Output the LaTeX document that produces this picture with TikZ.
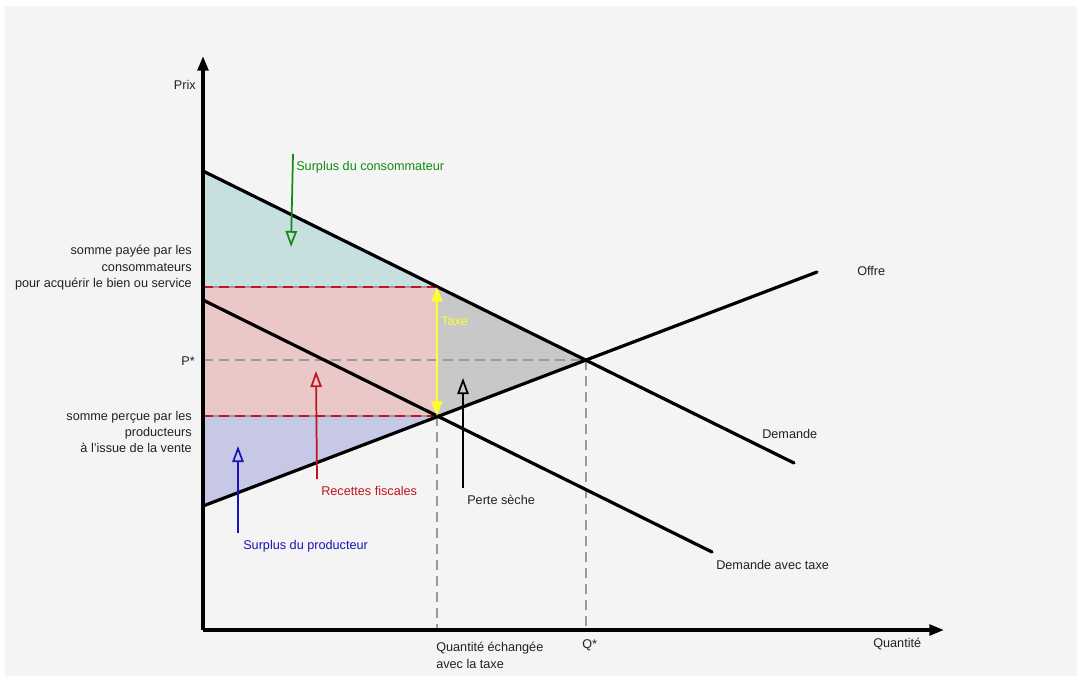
\documentclass[tikz,border=0pt]{standalone}
\usepackage{fontspec}
\setmainfont{Liberation Sans}
\usetikzlibrary{arrows.meta}
\definecolor{bg}{HTML}{F4F4F4}
\definecolor{tealfill}{HTML}{C7DFDF}
\definecolor{pinkfill}{HTML}{EBC8C8}
\definecolor{bluefill}{HTML}{C6C8E6}
\definecolor{grayfill}{HTML}{C8C8C8}
\definecolor{dgreen}{HTML}{138A13}
\definecolor{dred}{HTML}{C0141E}
\definecolor{dblue}{HTML}{1A14B4}
\definecolor{yel}{HTML}{FFFF30}
\definecolor{dashgray}{HTML}{9A9A9A}
\definecolor{txt}{HTML}{222222}
\tikzset{
  curve/.style={line width=2.4pt, line cap=round},
  axis/.style={line width=2.6pt, -{Triangle[length=11pt,width=8pt]}},
  guide/.style={dashgray, line width=1.1pt, dash pattern=on 7.5pt off 4.5pt},
  redguide/.style={dred, line width=1.1pt, dash pattern=on 7.5pt off 4.5pt},
  note/.style={line width=1.3pt, -{Triangle[open,length=12pt,width=8.5pt,line width=1.3pt]}},
  lbl/.style={font=\fontsize{9.5}{12.3}\selectfont, text=txt, inner sep=0pt},
}
\begin{document}
\begin{tikzpicture}[x=0.75pt,y=-0.75pt]
\useasboundingbox (0,0) rectangle (1077,676);
\fill[white] (0,0) rectangle (1077,676);
\fill[bg] (5,6) rectangle (1077,676);
% coordinates
\coordinate (O) at (203,630);
\coordinate (D0) at (203,171);
\coordinate (D1) at (794,463);
\coordinate (S0) at (203,506);
\coordinate (S1) at (817,272);
\coordinate (T0) at (203,300);
\coordinate (T1) at (712,552);
\coordinate (E) at (586,360);
\coordinate (Et) at (437,416);
\coordinate (Pc) at (437,287);
\coordinate (Pcy) at (203,287);
\coordinate (Ppy) at (203,416);
\coordinate (Psy) at (203,360);
\coordinate (Qt) at (437,630);
\coordinate (Qs) at (586,630);
% fills
\fill[tealfill] (D0) -- (Pc) -- (Pcy) -- cycle;
\fill[pinkfill] (Pcy) rectangle (Et);
\fill[bluefill] (Ppy) -- (Et) -- (S0) -- cycle;
\fill[grayfill] (Pc) -- (E) -- (Et) -- cycle;
% guides
\draw[guide] (Psy) -- (E);
\draw[guide] (E) -- (Qs);
\draw[guide] (Et) -- (Qt);
\draw[dashgray, line width=1.1pt] (Pcy) -- (Pc);
\draw[dashgray, line width=1.1pt] (Ppy) -- (Et);
\draw[redguide] (Pcy) -- (Pc);
\draw[redguide] (Ppy) -- (Et);
% curves
\draw[curve] (D0) -- (D1);
\draw[curve] (S0) -- (S1);
\draw[curve] (T0) -- (T1);
% axes
\draw[axis] (O) -- (203,56);
\draw[axis] (O) -- (944,630);
% tax arrow
\draw[yel, line width=1.5pt, {Triangle[length=11pt,width=8pt]}-{Triangle[length=11pt,width=8pt]}] (Pc) -- (Et);
\node[lbl, text=yel, anchor=west] (taxe) at (441,321) {Taxe};
% annotation arrows
\coordinate (ga) at (293,154);
\coordinate (gb) at (291,247);
\draw[note, dgreen] (ga) -- (gb);
\node[lbl, text=dgreen, anchor=west] (cs) at (296,167) {Surplus du consommateur};
\coordinate (ra) at (317,479);
\coordinate (rb) at (316,371);
\draw[note, dred] (ra) -- (rb);
\node[lbl, text=dred, anchor=west] (rf) at (321,491) {Recettes fiscales};
\coordinate (ka) at (463,488);
\coordinate (kb) at (463,378);
\draw[note, black] (ka) -- (kb);
\node[lbl, anchor=west] (ps) at (467,500) {Perte sèche};
\coordinate (ba) at (238,533);
\coordinate (bb) at (238,446);
\draw[note, dblue] (ba) -- (bb);
\node[lbl, text=dblue, anchor=west] (sp) at (243,546) {Surplus du producteur};
% labels
\node[lbl, anchor=east] (prix) at (196,85) {Prix};
\node[lbl, anchor=east] (pstar) at (195,361) {P*};
\node[lbl, anchor=east, align=right] (payee) at (192,268) {somme payée par les\\consommateurs\\pour acquérir le bien ou service};
\node[lbl, anchor=east, align=right] (percue) at (192,432) {somme perçue par les\\producteurs\\à l'issue de la vente};
\node[lbl, anchor=west] (offre) at (857,271) {Offre};
\node[lbl, anchor=west] (dem) at (762,434) {Demande};
\node[lbl, anchor=west] (demt) at (716,565) {Demande avec taxe};
\node[lbl, anchor=west] (qty) at (873,644) {Quantité};
\node[lbl, anchor=west] (qs) at (582,645) {Q*};
\node[lbl, anchor=north west, align=left] (qt) at (436,642) {Quantité échangée\\avec la taxe};
\end{tikzpicture}
\end{document}
